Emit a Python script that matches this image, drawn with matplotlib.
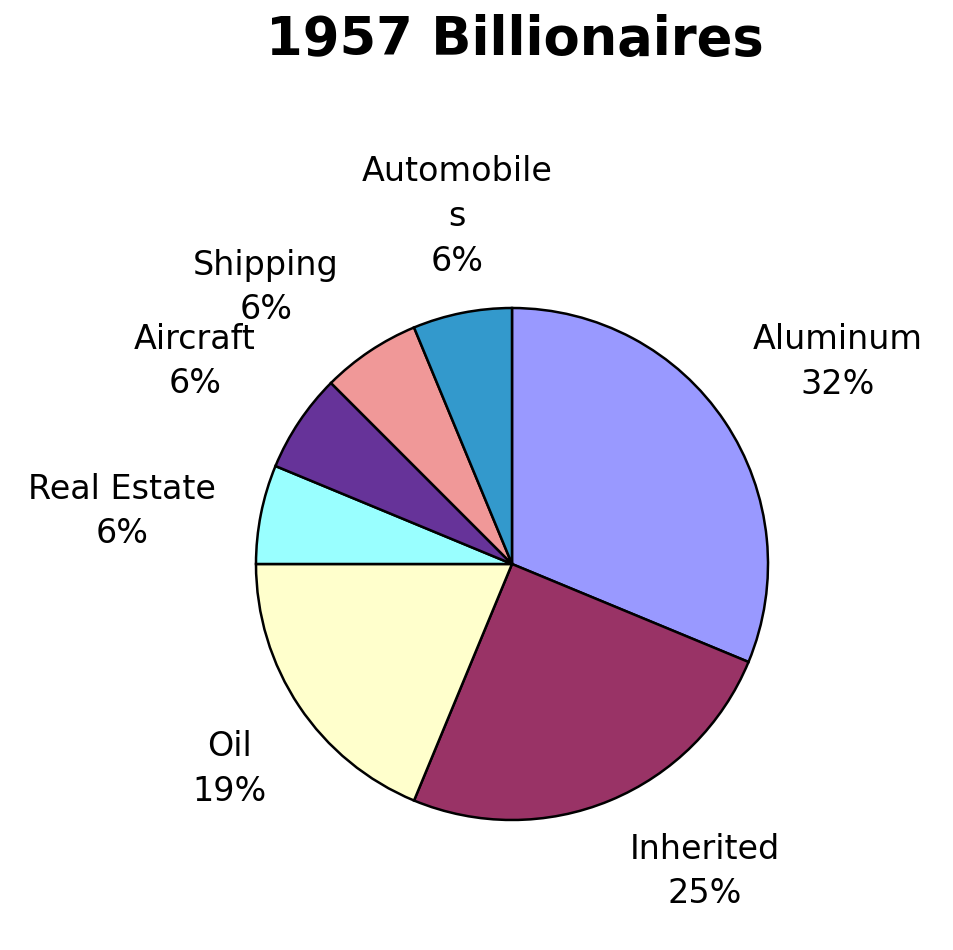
import matplotlib
matplotlib.use("Agg")
import matplotlib.pyplot as plt

# Data
categories = ["Aluminum", "Inherited", "Oil", "Real Estate", "Aircraft", "Shipping", "Automobiles"]
display_names = ["Aluminum", "Inherited", "Oil", "Real Estate", "Aircraft", "Shipping", "Automobile\ns"]
counts = [5, 4, 3, 1, 1, 1, 1]
pct_labels = ["32%", "25%", "19%", "6%", "6%", "6%", "6%"]
title = "1957 Billionaires"

# Styles / positions
colors = ["#9999FF", "#993366", "#FFFFCC", "#99FFFF", "#663399", "#F09898", "#3399CC"]
label_pos = [(1.273, 0.789), (0.754, -1.201), (-1.102, -0.801), (-1.523, 0.205),
             (-1.238, 0.791), (-0.961, 1.080), (-0.215, 1.357)]

W, H = 954, 950
fig = plt.figure(figsize=(W / 100, H / 100), dpi=100)
ax = fig.add_axes([0, 0, 1, 1])
cx, cy, r = 512, 564, 256
ax.pie(counts, colors=colors, startangle=90, counterclock=False, radius=1,
       center=(0, 0), frame=False,
       wedgeprops=dict(edgecolor="black", linewidth=1.8))
ax.set_xlim((0 - cx) / r, (W - cx) / r)
ax.set_ylim((cy - H) / r, cy / r)
ax.set_aspect("auto")
ax.axis("off")

for name, pct, (x, y) in zip(display_names, pct_labels, label_pos):
    ax.text(x, y, f"{name}\n{pct}", ha="center", va="center", fontsize=24,
            linespacing=1.45, color="black", family="DejaVu Sans")

ax.text((515 - cx) / r, (cy - 40) / r, title, ha="center", va="center",
        fontsize=38, fontweight="bold", color="black", family="DejaVu Sans")

fig.savefig("out.png", dpi=100, facecolor="white")
